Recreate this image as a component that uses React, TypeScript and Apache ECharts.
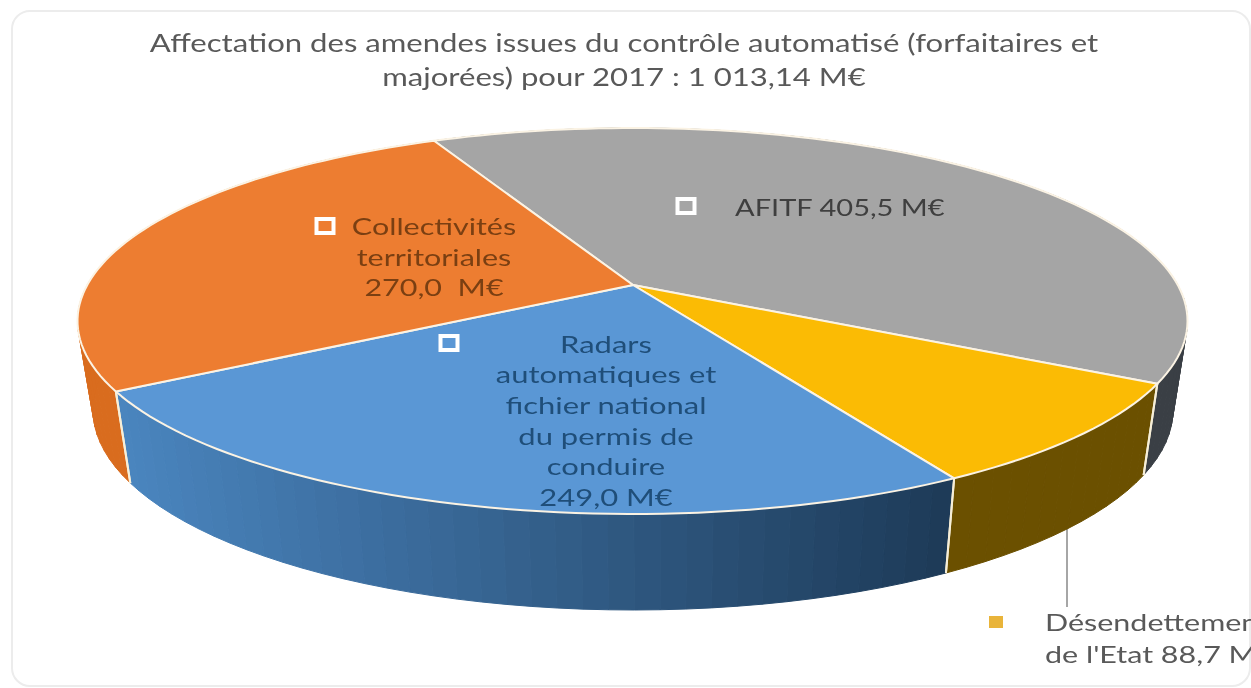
import React, { useEffect, useRef } from "react";
import * as echarts from "echarts";

const titleLines = [
  "Affectation des amendes issues du contrôle automatisé (forfaitaires et",
  "majorées) pour 2017 : 1 013,14 M€",
];
const sliceNames = ["AFITF", "Désendettement de l'Etat", "Radars automatiques et fichier national du permis de conduire", "Collectivités territoriales"];
const sliceValues = [405.5, 88.7, 249.0, 270.0];
const topColors = ["#a5a5a5", "#fbbb04", "#5a97d5", "#ed7d31"];
const wallLeftColors = ["#3a3f45", "#6b5000", "#4a85bf", "#d96c1e"];
const wallRightColors = ["#3a3f45", "#6b5000", "#1d3a57", "#c9621a"];

const afitfLabel = ["AFITF 405,5 M€"];
const collectivitesLabel = ["Collectivités", "territoriales", "270,0  M€"];
const radarsLabel = ["Radars", "automatiques et", "fichier national", "du permis de", "conduire", "249,0 M€"];
const desendettementLabel = ["Désendettement", "de l'Etat 88,7 M€"];

const FONT = "Lato, 'Open Sans', sans-serif";
const START = (-25.2 * Math.PI) / 180;
const K = 0.187;
const S = Math.sqrt(1 - K * K);
const total = sliceValues.reduce((a, b) => a + b, 0);

// projective map of the unit disk: the true centre lands on the drawn apex
function project(t: number) {
  const x = Math.sin(t);
  const y = Math.cos(t);
  const d = 1 + K * y;
  return [(x * S) / d, (y + K) / d];
}
const upper = (t: number) => {
  const [u, v] = project(t);
  return [632.5 + 555 * u, 321 - 193 * v];
};
const lower = (t: number) => {
  const [u, v] = project(t);
  return [633 + 540 * u, 410 - 200 * v];
};
function range(index: number) {
  let before = 0;
  for (let i = 0; i < index; i++) before += sliceValues[i];
  return [
    START + (before / total) * 2 * Math.PI,
    START + ((before + sliceValues[index]) / total) * 2 * Math.PI,
  ];
}
function hex(c: string) {
  return [1, 3, 5].map((i) => parseInt(c.slice(i, i + 2), 16));
}
function mix(a: string, b: string, f: number) {
  const ca = hex(a);
  const cb = hex(b);
  const m = ca.map((v, i) => Math.round(v + (cb[i] - v) * f));
  return `rgb(${m[0]},${m[1]},${m[2]})`;
}

function renderWall(params: any, api: any) {
  const i = params.dataIndex;
  const [a, b] = range(i);
  const steps = Math.max(10, Math.round((api.value(0) / total) * 160));
  const children: any[] = [];
  const xs = [upper(a)[0], upper(b)[0]];
  const minX = Math.min(...xs);
  const maxX = Math.max(...xs);
  for (let s = 0; s < steps; s++) {
    const t0 = a + ((b - a) * s) / steps;
    const t1 = a + ((b - a) * (s + 1)) / steps;
    const u0 = upper(t0);
    const u1 = upper(t1);
    const f = maxX > minX ? Math.min(1, Math.max(0, ((u0[0] + u1[0]) / 2 - minX) / (maxX - minX))) : 0;
    const color = mix(wallLeftColors[i], wallRightColors[i], f);
    children.push({
      type: "polygon",
      shape: { points: [u0, u1, lower(t1), lower(t0)] },
      style: { fill: color, stroke: color, lineWidth: 1 },
    });
  }
  [a, b].forEach((t) => {
    children.push({
      type: "line",
      z2: 5,
      shape: { x1: upper(t)[0], y1: upper(t)[1], x2: lower(t)[0], y2: lower(t)[1] },
      style: { stroke: "#f7efd8", lineWidth: 2 },
    });
  });
  return { type: "group", children };
}

function renderTop(params: any, api: any) {
  const i = params.dataIndex;
  const [a, b] = range(i);
  const steps = Math.max(12, Math.round((api.value(0) / total) * 240));
  const points: number[][] = [[633, 285]];
  for (let s = 0; s <= steps; s++) points.push(upper(a + ((b - a) * s) / steps));
  return {
    type: "polygon",
    shape: { points },
    style: { fill: topColors[i], stroke: "#fbf3e4", lineWidth: 2, lineJoin: "round" },
  };
}

function textLines(lines: string[], x: number, ys: number[], fill: string, align: string, stretch: number, size = 24) {
  return lines.map((text, i) => ({
    type: "text",
    z: 20,
    x,
    y: ys[i],
    scaleX: stretch,
    style: {
      text,
      x: 0,
      y: 0,
      fill,
      align,
      verticalAlign: "middle",
      font: `${size}px ${FONT}`,
    },
  }));
}
function hollowMarker(cx: number, cy: number) {
  return {
    type: "rect",
    z: 20,
    shape: { x: cx - 8.5, y: cy - 7, width: 17, height: 14 },
    style: { fill: "none", stroke: "#ffffff", lineWidth: 4 },
  };
}

export default function App() {
  const ref = useRef<HTMLDivElement>(null);
  useEffect(() => {
    const chart = echarts.init(ref.current!, undefined, { renderer: "svg" });
    const seriesData = sliceNames.map((name, i) => ({ name, value: [sliceValues[i]] }));
    chart.setOption({
      animation: false,
      backgroundColor: "#ffffff",
      series: [
        { type: "custom", coordinateSystem: "none", z: 1, silent: true, data: seriesData, renderItem: renderWall },
        { type: "custom", coordinateSystem: "none", z: 2, silent: true, data: seriesData, renderItem: renderTop },
      ],
      graphic: [
        {
          type: "rect",
          z: 0,
          shape: { x: 12, y: 11, width: 1238, height: 675, r: 18 },
          style: { fill: "none", stroke: "#ececec", lineWidth: 2 },
        },
        ...textLines(titleLines, 624, [42, 76], "#595959", "center", 1.244, 25),
        hollowMarker(686, 206),
        hollowMarker(325, 226),
        hollowMarker(449, 343),
        ...textLines(afitfLabel, 735, [207], "#3f3f3f", "left", 1.21),
        ...textLines(collectivitesLabel, 434, [226, 257, 287], "#7a3f12", "center", 1.27),
        ...textLines(radarsLabel, 606, [344, 374, 405, 436, 466, 497], "#1f4e79", "center", 1.29),
        ...textLines(desendettementLabel, 1045, [622, 654], "#595959", "left", 1.27),
        {
          type: "rect",
          z: 20,
          shape: { x: 989, y: 616, width: 14, height: 12 },
          style: { fill: "#e9b43a" },
        },
        {
          type: "line",
          z: 0,
          shape: { x1: 1067, y1: 525, x2: 1067, y2: 607 },
          style: { stroke: "#a6a6a6", lineWidth: 2 },
        },
      ],
    });
    return () => chart.dispose();
  }, []);
  return (
    <div
      ref={ref}
      style={{ position: "fixed", left: 0, top: 0, width: 1251, height: 688, filter: "blur(0.5px)" }}
    />
  );
}
